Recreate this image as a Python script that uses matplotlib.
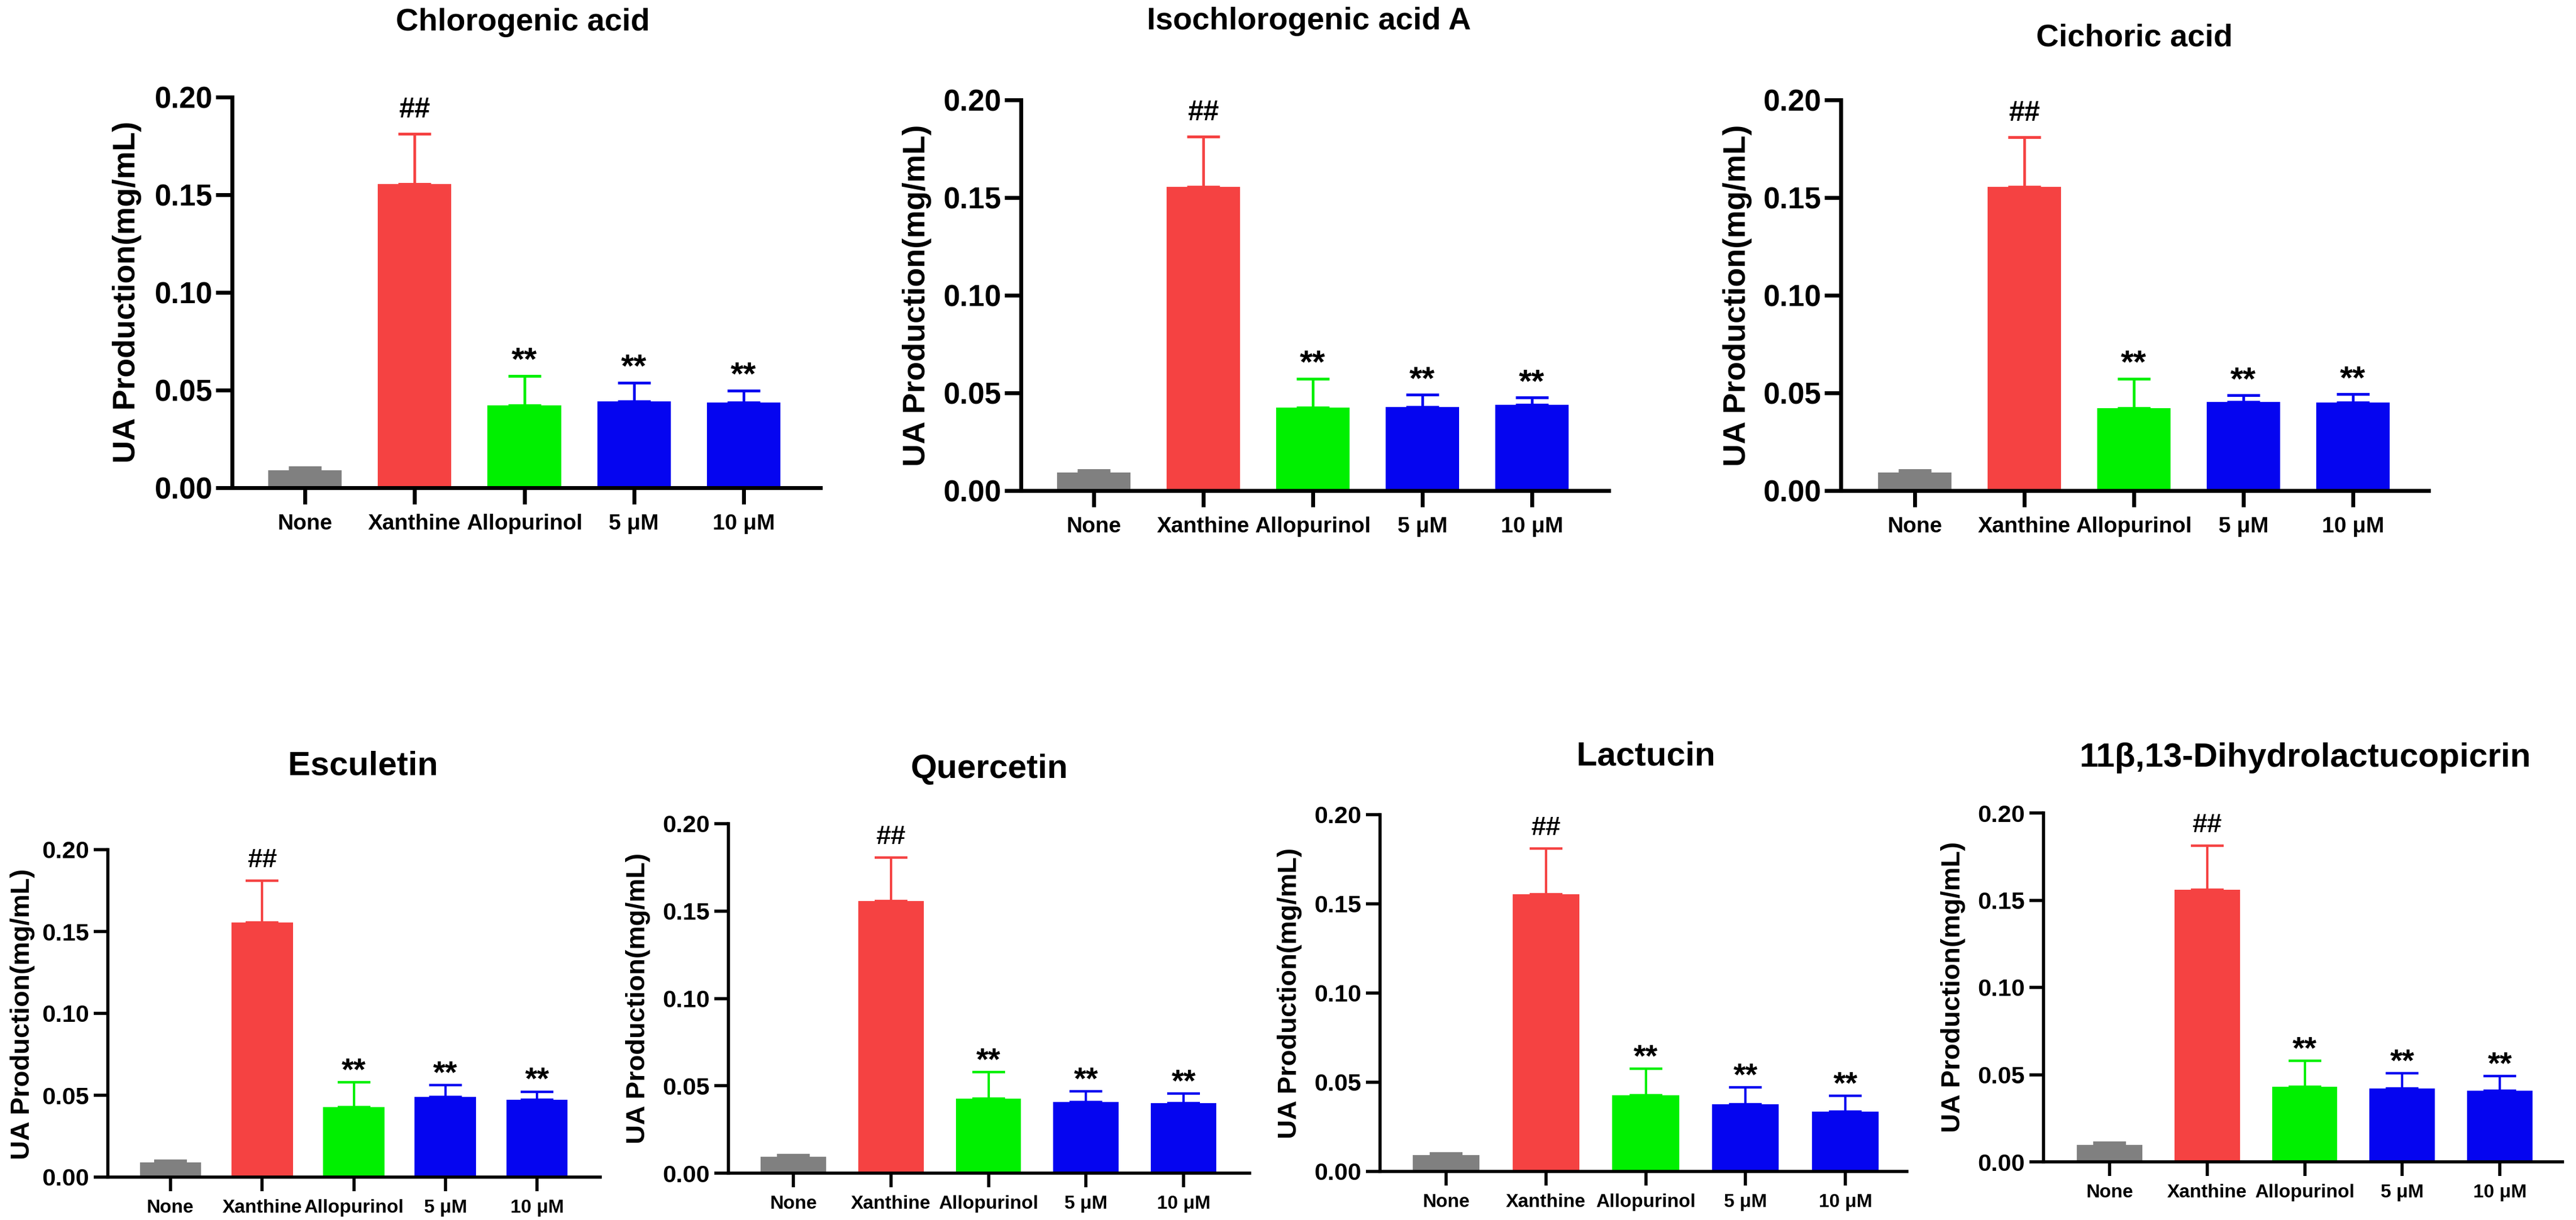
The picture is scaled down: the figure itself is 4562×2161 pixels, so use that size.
import numpy as np
import matplotlib
matplotlib.use("Agg")
import matplotlib.pyplot as plt

plt.rcParams['font.family'] = ['Liberation Sans', 'DejaVu Sans']
plt.rcParams['font.weight'] = 'bold'

# ---------------- data ----------------
categories = ['None', 'Xanthine', 'Allopurinol', '5 μM', '10 μM']
compounds = ['Chlorogenic acid', 'Isochlorogenic acid A', 'Cichoric acid',
             'Esculetin', 'Quercetin', 'Lactucin', '11β,13-Dihydrolactucopicrin']

mean_cga = [0.0091, 0.1555, 0.0423, 0.0443, 0.0435]
sem_cga = [0.0012, 0.0257, 0.0150, 0.0096, 0.0063]
mean_icga = [0.0092, 0.1556, 0.0424, 0.0428, 0.0439]
sem_icga = [0.0013, 0.0256, 0.0149, 0.0062, 0.0038]
mean_ca = [0.0092, 0.1554, 0.0422, 0.0453, 0.0450]
sem_ca = [0.0012, 0.0254, 0.0151, 0.0034, 0.0044]
mean_esc = [0.0089, 0.1556, 0.0427, 0.0489, 0.0471]
sem_esc = [0.0011, 0.0253, 0.0151, 0.0073, 0.0051]
mean_que = [0.0094, 0.1556, 0.0425, 0.0408, 0.0400]
sem_que = [0.0010, 0.0250, 0.0152, 0.0061, 0.0056]
mean_lac = [0.0092, 0.1555, 0.0427, 0.0376, 0.0337]
sem_lac = [0.0010, 0.0255, 0.0149, 0.0095, 0.0087]
mean_dhl = [0.0096, 0.1560, 0.0430, 0.0420, 0.0407]
sem_dhl = [0.0014, 0.0252, 0.0150, 0.0089, 0.0086]

marks = ['', '##', '**', '**', '**']
yticks = [0.00, 0.05, 0.10, 0.15, 0.20]

means = [mean_cga, mean_icga, mean_ca, mean_esc, mean_que, mean_lac, mean_dhl]
sems = [sem_cga, sem_icga, sem_ca, sem_esc, sem_que, sem_lac, sem_dhl]

bar_colors = ['#808080', '#F54242', '#00F000', '#0505F0', '#0505F0']

# ---------------- layout (pixels) ----------------
W, H = 4562, 2161
# L, R, T(0.20), B(0.00), first bar centre, last bar centre
layout = [
    (411, 1453, 172, 864, 540, 1317),
    (1808, 2849, 177, 869, 1937, 2713),
    (3260, 4301, 177, 869, 3391, 4167),
    (191, 1063, 1505, 2085, 302, 951),
    (1290, 2213, 1459, 2078, 1405, 2096),
    (2444, 3377, 1443, 2075, 2561, 3268),
    (3619, 4538, 1440, 2058, 3736, 4427),
]
title_pos = [(926, 40), (2318, 38), (3780, 67), (643, 1357), (1752, 1363), (2915, 1340), (4082, 1343)]
ylabel_pos = [(225, 517), (1624, 523), (3077, 523), (40, 1796), (1130, 1768), (2284, 1759), (3459, 1748)]

fig = plt.figure(figsize=(W / 100, H / 100), dpi=100)
fig.patch.set_facecolor('white')

for i in range(7):
    top = i < 3
    L, R, T, B, c0, c4 = layout[i]
    step = (c4 - c0) / 4.0
    ax = fig.add_axes([L / W, 1 - B / H, (R - L) / W, (B - T) / H])
    x = np.arange(len(categories))
    m = np.array(means[i])
    s = np.array(sems[i])
    ax.bar(x, m, width=0.67, color=bar_colors, edgecolor='none', zorder=2)
    for j in range(len(categories)):
        ax.errorbar(x[j], m[j], yerr=[[0], [s[j]]], fmt='none', ecolor=bar_colors[j],
                    elinewidth=3.4 if top else 3.0, capsize=21, capthick=3.6 if top else 3.2, zorder=3)
    ax.set_xlim(-(c0 - L) / step, 4 + (R - c4) / step)
    ax.set_ylim(0, 0.2)
    ax.set_yticks(yticks)
    ax.set_yticklabels(['%.2f' % v for v in yticks])
    ax.set_xticks(x)
    ax.set_xticklabels(categories)
    for sp in ['top', 'right']:
        ax.spines[sp].set_visible(False)
    lw = 5 if top else 4
    for sp in ['left', 'bottom']:
        ax.spines[sp].set_linewidth(lw)
        ax.spines[sp].set_capstyle('projecting')
    tl = 21 if top else 18
    ax.tick_params(axis='y', direction='out', length=tl, width=lw, labelsize=38 if top else 31,
                   pad=4 if top else 6)
    ax.tick_params(axis='x', direction='out', length=tl, width=lw, labelsize=28 if top else 24,
                   pad=12 if top else 10)
    for lab in ax.get_xticklabels() + ax.get_yticklabels():
        lab.set_fontweight('bold')
    ax.set_facecolor('none')

    # significance marks
    for j in range(len(categories)):
        if not marks[j]:
            continue
        ytop = m[j] + s[j]
        if marks[j] == '##':
            off = 21 if top else 17.5
            fs = 36 if top else 34
        else:
            off = 7 if top else 3.5
            fs = 42 if top else 40
        ax.annotate(marks[j], xy=(x[j], ytop), xytext=(0, off), textcoords='offset points',
                    ha='center', va='baseline', fontsize=fs, fontweight='bold', color='black',
                    annotation_clip=False)

    tx, ty = title_pos[i]
    fig.text(tx / W, 1 - ty / H, compounds[i], ha='center', va='center',
             fontsize=40 if top else 43, fontweight='bold')
    lx, ly = ylabel_pos[i]
    fig.text(lx / W, 1 - ly / H, 'UA Production(mg/mL)', rotation=90, ha='center', va='center',
             fontsize=40 if top else 34, fontweight='bold')

fig.savefig('out.png', dpi=100, facecolor='white')
